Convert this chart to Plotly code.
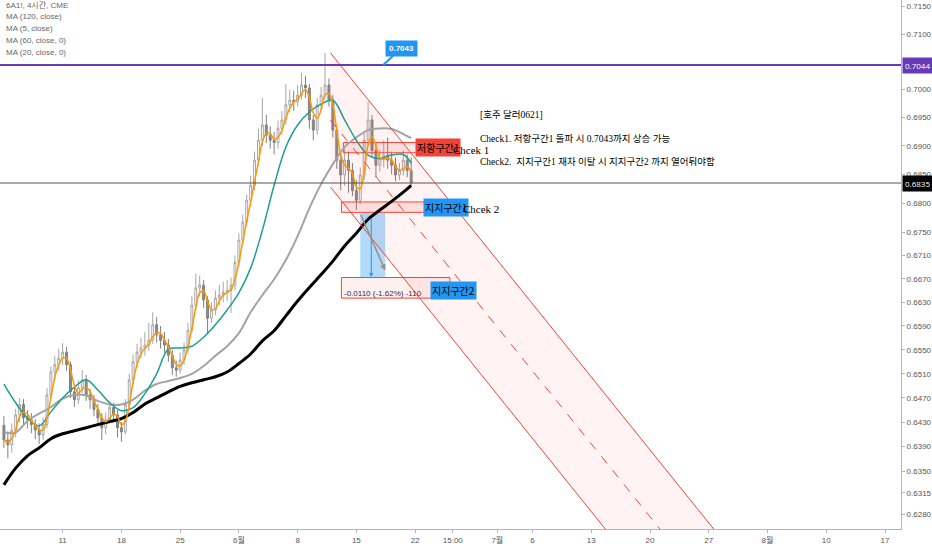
import numpy as np
import pandas as pd
import plotly.graph_objects as go

# 6A1! 4시간 차트 (8시간 단위로 읽음) 2020-05-04 ~ 2020-06-19
opens = [0.6425, 0.6401, 0.6393, 0.6417, 0.6442, 0.6459, 0.6437, 0.6434, 0.6426, 0.6417,
         0.6409, 0.6426, 0.6475, 0.6513, 0.6525, 0.6536, 0.6546, 0.6525, 0.6480, 0.6467,
         0.6487, 0.6500, 0.6475, 0.6467, 0.6451, 0.6437, 0.6421, 0.6434, 0.6454, 0.6442,
         0.6421, 0.6414, 0.6459, 0.6500, 0.6530, 0.6546, 0.6553, 0.6558, 0.6566, 0.6592,
         0.6575, 0.6566, 0.6558, 0.6541, 0.6520, 0.6516, 0.6533, 0.6550, 0.6583, 0.6625,
         0.6654, 0.6659, 0.6634, 0.6603, 0.6617, 0.6637, 0.6642, 0.6647, 0.6650, 0.6659,
         0.6698, 0.6736, 0.6767, 0.6805, 0.6831, 0.6875, 0.6910, 0.6937, 0.6919, 0.6910,
         0.6906, 0.6931, 0.6946, 0.6973, 0.6981, 0.6978, 0.6990, 0.7008, 0.7003, 0.6946,
         0.6928, 0.6973, 0.6990, 0.7008, 0.6981, 0.6928, 0.6875, 0.6849, 0.6875, 0.6857,
         0.6822, 0.6805, 0.6849, 0.6910, 0.6946, 0.6892, 0.6866, 0.6878, 0.6884, 0.6875,
         0.6866, 0.6849, 0.6857, 0.6875, 0.6857]
highs = [0.6440, 0.6415, 0.6428, 0.6452, 0.6470, 0.6468, 0.6450, 0.6445, 0.6435, 0.6428,
         0.6438, 0.6486, 0.6522, 0.6540, 0.6552, 0.6561, 0.6555, 0.6530, 0.6490, 0.6500,
         0.6516, 0.6508, 0.6485, 0.6475, 0.6460, 0.6445, 0.6446, 0.6465, 0.6462, 0.6450,
         0.6430, 0.6468, 0.6510, 0.6542, 0.6560, 0.6570, 0.6580, 0.6595, 0.6613, 0.6605,
         0.6590, 0.6580, 0.6568, 0.6550, 0.6532, 0.6545, 0.6562, 0.6595, 0.6640, 0.6679,
         0.6675, 0.6668, 0.6640, 0.6630, 0.6650, 0.6660, 0.6665, 0.6668, 0.6672, 0.6710,
         0.6748, 0.6780, 0.6815, 0.6848, 0.6890, 0.6930, 0.6985, 0.6955, 0.6935, 0.6925,
         0.6945, 0.6962, 0.7010, 0.7000, 0.6998, 0.7008, 0.7030, 0.7025, 0.7010, 0.6955,
         0.6985, 0.7005, 0.7066, 0.7020, 0.6990, 0.6935, 0.6890, 0.6895, 0.6890, 0.6870,
         0.6840, 0.6862, 0.6925, 0.6978, 0.6955, 0.6905, 0.6892, 0.6910, 0.6915, 0.6890,
         0.6880, 0.6870, 0.6892, 0.6885, 0.6880]
lows = [0.6388, 0.6371, 0.6380, 0.6405, 0.6430, 0.6425, 0.6420, 0.6412, 0.6402, 0.6394,
        0.6400, 0.6420, 0.6468, 0.6500, 0.6515, 0.6524, 0.6515, 0.6470, 0.6455, 0.6460,
        0.6478, 0.6465, 0.6452, 0.6440, 0.6425, 0.6401, 0.6410, 0.6428, 0.6430, 0.6405,
        0.6398, 0.6410, 0.6452, 0.6492, 0.6520, 0.6535, 0.6540, 0.6548, 0.6560, 0.6562,
        0.6552, 0.6545, 0.6530, 0.6508, 0.6505, 0.6510, 0.6525, 0.6545, 0.6578, 0.6615,
        0.6640, 0.6620, 0.6578, 0.6595, 0.6608, 0.6625, 0.6630, 0.6632, 0.6612, 0.6650,
        0.6690, 0.6728, 0.6760, 0.6795, 0.6822, 0.6865, 0.6900, 0.6905, 0.6895, 0.6885,
        0.6895, 0.6920, 0.6938, 0.6960, 0.6962, 0.6970, 0.6982, 0.6985, 0.6930, 0.6910,
        0.6920, 0.6965, 0.6982, 0.6970, 0.6915, 0.6860, 0.6822, 0.6830, 0.6818, 0.6812,
        0.6788, 0.6798, 0.6840, 0.6900, 0.6880, 0.6845, 0.6855, 0.6862, 0.6860, 0.6850,
        0.6838, 0.6840, 0.6848, 0.6845, 0.6831]
closes = [0.6401, 0.6393, 0.6417, 0.6442, 0.6459, 0.6437, 0.6434, 0.6426, 0.6417, 0.6409,
          0.6426, 0.6475, 0.6513, 0.6525, 0.6536, 0.6546, 0.6525, 0.6480, 0.6467, 0.6487,
          0.6500, 0.6475, 0.6467, 0.6451, 0.6437, 0.6421, 0.6434, 0.6454, 0.6442, 0.6421,
          0.6414, 0.6459, 0.6500, 0.6530, 0.6546, 0.6553, 0.6558, 0.6566, 0.6592, 0.6575,
          0.6566, 0.6558, 0.6541, 0.6520, 0.6516, 0.6533, 0.6550, 0.6583, 0.6625, 0.6654,
          0.6659, 0.6634, 0.6603, 0.6617, 0.6637, 0.6642, 0.6647, 0.6650, 0.6659, 0.6698,
          0.6736, 0.6767, 0.6805, 0.6831, 0.6875, 0.6910, 0.6937, 0.6919, 0.6910, 0.6906,
          0.6931, 0.6946, 0.6973, 0.6981, 0.6978, 0.6990, 0.7008, 0.7003, 0.6946, 0.6928,
          0.6973, 0.6990, 0.7008, 0.6981, 0.6928, 0.6875, 0.6849, 0.6875, 0.6857, 0.6822,
          0.6805, 0.6849, 0.6910, 0.6946, 0.6892, 0.6866, 0.6878, 0.6884, 0.6875, 0.6866,
          0.6849, 0.6857, 0.6875, 0.6857, 0.6835]

# 이동평균 (일 단위로 읽음 + 마지막 봉)
ma120 = [0.6328, 0.6355, 0.6375, 0.6388, 0.6403, 0.6411, 0.6416, 0.6421, 0.6426, 0.6431,
         0.6436, 0.6446, 0.6460, 0.6470, 0.6480, 0.6489, 0.6495, 0.6500, 0.6505, 0.6513,
         0.6527, 0.6543, 0.6565, 0.6582, 0.6607, 0.6632, 0.6655, 0.6677, 0.6700, 0.6726,
         0.6748, 0.6772, 0.6788, 0.6803, 0.6819, 0.6831]
ma60 = [0.6413, 0.6413, 0.6432, 0.6444, 0.6455, 0.6469, 0.6475, 0.6474, 0.6465, 0.6459,
        0.6459, 0.6467, 0.6482, 0.6493, 0.6498, 0.6503, 0.6510, 0.6523, 0.6540, 0.6556,
        0.6578, 0.6613, 0.6642, 0.6669, 0.6702, 0.6743, 0.6791, 0.6833, 0.6868, 0.6898,
        0.6915, 0.6928, 0.6931, 0.6930, 0.6921, 0.6914]
ma20 = [0.6493, 0.6462, 0.6437, 0.6424, 0.6447, 0.6470, 0.6488, 0.6500, 0.6483, 0.6462,
        0.6449, 0.6454, 0.6477, 0.6510, 0.6551, 0.6553, 0.6556, 0.6571, 0.6592, 0.6617,
        0.6646, 0.6688, 0.6753, 0.6831, 0.6898, 0.6937, 0.6960, 0.6974, 0.6981, 0.6946,
        0.6910, 0.6884, 0.6878, 0.6884, 0.6885, 0.6870]

y_ticks = [0.7150, 0.7100, 0.7000, 0.6950, 0.6900, 0.6850, 0.6800, 0.6750, 0.6710, 0.6670,
           0.6630, 0.6590, 0.6550, 0.6510, 0.6470, 0.6430, 0.6390, 0.6350, 0.6315, 0.6280]
x_tick_dates = ["2020-05-11", "2020-05-18", "2020-05-25", "2020-06-01", "2020-06-08",
                "2020-06-15", "2020-06-22", "2020-06-25 05:00", "2020-07-01", "2020-07-06",
                "2020-07-13", "2020-07-20", "2020-07-27", "2020-08-03", "2020-08-10", "2020-08-17"]
x_tick_text = ["11", "18", "25", "6월", "8", "15", "22", "15:00", "7월",
               "6", "13", "20", "27", "8월", "10", "17"]

target_price = 0.7044
last_price = 0.6835
resist1 = [0.6888, 0.6906]
support1 = [0.6784, 0.6802]
support2 = [0.6637, 0.6672]
drop_range = [0.6673, 0.6783]

# 하락 채널 (시작점, 끝점)
chan_upper = [0.7066, 0.6257]
chan_mid = [0.6946, 0.6257]
chan_lower = [0.6828, 0.6257]
chan_start = "2020-06-10 19:00"
chan_ends = ["2020-07-27 10:00", "2020-07-20 20:00", "2020-07-14 04:30"]

x_range = ["2020-05-01 16:00", "2020-08-18 08:40"]
y_range = [0.6257, 0.7162]

days = pd.bdate_range("2020-05-04", "2020-06-19")
bar_times = [d + pd.Timedelta(hours=h) for d in days for h in (0, 8, 16)]
ma_times = list(days) + [bar_times[-1]]
ma5 = pd.Series(closes).rolling(3, min_periods=1).mean()

RED = "#f44336"
BLUE = "#2196f3"
PURPLE = "#673ab7"
KFONT = "Noto Sans CJK KR"


def ly(v):
    return np.log10(v)


def box(x0, x1, y0, y1, fill, line=None):
    return go.Scatter(x=[x0, x1, x1, x0, x0], y=[y0, y0, y1, y1, y0], mode="lines",
                      fill="toself", fillcolor=fill,
                      line=dict(color=line or "rgba(0,0,0,0)", width=1), hoverinfo="skip")


fig = go.Figure()

# 채널 배경
fig.add_trace(go.Scatter(x=[chan_start, chan_ends[0], chan_ends[2], chan_start, chan_start],
                         y=[chan_upper[0], chan_upper[1], chan_lower[1], chan_lower[0], chan_upper[0]],
                         mode="lines", fill="toself", fillcolor="rgba(255,82,82,0.07)",
                         line=dict(width=0), hoverinfo="skip"))

# 구간 박스
fig.add_trace(box("2020-06-11 21:30", "2020-06-24 23:00", resist1[0], resist1[1], "rgba(244,67,54,0.12)", RED))
fig.add_trace(box("2020-06-11 17:30", "2020-06-25 21:30", support1[0], support1[1], "rgba(244,67,54,0.12)", RED))
fig.add_trace(box("2020-06-11 17:30", "2020-06-24 23:00", support2[0], support2[1], "rgba(244,67,54,0.08)", RED))
fig.add_trace(box("2020-06-15 08:00", "2020-06-17 11:00", drop_range[0], drop_range[1], "rgba(33,150,243,0.35)"))

fig.add_trace(go.Candlestick(x=bar_times, open=opens, high=highs, low=lows, close=closes,
                             increasing=dict(line=dict(color="#a6a6a6", width=1), fillcolor="#ffffff"),
                             decreasing=dict(line=dict(color="#808080", width=1), fillcolor="#8c8c8c"),
                             hoverinfo="skip"))

fig.add_trace(go.Scatter(x=ma_times, y=ma120, mode="lines", line=dict(color="#000000", width=3, shape="spline")))
fig.add_trace(go.Scatter(x=ma_times, y=ma60, mode="lines", line=dict(color="#a3a3a3", width=2, shape="spline")))
fig.add_trace(go.Scatter(x=ma_times, y=ma20, mode="lines", line=dict(color="#1f9e93", width=1.5, shape="spline")))
fig.add_trace(go.Scatter(x=bar_times, y=ma5, mode="lines", line=dict(color="#ff9800", width=1.5, shape="spline")))

# 채널 선
fig.add_trace(go.Scatter(x=[chan_start, chan_ends[0]], y=chan_upper, mode="lines", line=dict(color=RED, width=1)))
fig.add_trace(go.Scatter(x=[chan_start, chan_ends[1]], y=chan_mid, mode="lines", line=dict(color=RED, width=1, dash="dash")))
fig.add_trace(go.Scatter(x=[chan_start, chan_ends[2]], y=chan_lower, mode="lines", line=dict(color=RED, width=1)))

# 수평선
fig.add_trace(go.Scatter(x=x_range, y=[target_price, target_price], mode="lines", line=dict(color=PURPLE, width=2)))
fig.add_trace(go.Scatter(x=x_range, y=[last_price, last_price], mode="lines", line=dict(color="#555555", width=1)))

ann = []
legend_lines = ["6A1!, 4시간, CME", "MA (120, close)", "MA (5, close)", "MA (60, close, 0)", "MA (20, close, 0)"]
for i, t in enumerate(legend_lines):
    ann.append(dict(x=0.004, y=1 - (5 + 12 * i) / 529, xref="paper", yref="paper", text=t,
                    showarrow=False, xanchor="left", yanchor="middle",
                    font=dict(size=8, color="#666", family="Liberation Sans, " + KFONT)))

# 가격축 라벨
ann.append(dict(x=1, y=ly(target_price), xref="paper", yref="y", text=f"{target_price:.4f}", showarrow=False,
                xanchor="left", xshift=1, bgcolor=PURPLE, borderpad=2, font=dict(size=8, color="white")))
ann.append(dict(x=1, y=ly(last_price), xref="paper", yref="y", text=f"{last_price:.4f}", showarrow=False,
                xanchor="left", xshift=1, bgcolor="#000000", borderpad=2, font=dict(size=8, color="white")))

# 목표가 말풍선
ann.append(dict(x="2020-06-17 07:00", y=ly(target_price), text="<b>0.7043</b>", showarrow=True, ax=18, ay=-17,
                arrowhead=0, arrowwidth=2, arrowcolor=BLUE, bgcolor=BLUE, borderpad=3,
                font=dict(size=8, color="white", family="Liberation Sans")))

# 구간 라벨
ann.append(dict(x="2020-06-22 00:00", y=ly(sum(resist1) / 2), text="저항구간1", showarrow=False, xanchor="left",
                bgcolor=RED, borderpad=1, font=dict(size=10, color="black", family=KFONT)))
ann.append(dict(x="2020-06-25 00:30", y=ly(0.6892), text="Chcek 1", showarrow=False, xanchor="left",
                font=dict(size=11, color="black", family="Liberation Serif")))
ann.append(dict(x="2020-06-22 16:00", y=ly(sum(support1) / 2), text="지지구간1", showarrow=False, xanchor="left",
                bgcolor=BLUE, borderpad=1, font=dict(size=10, color="black", family=KFONT)))
ann.append(dict(x="2020-06-25 21:30", y=ly(0.6790), text="Chcek 2", showarrow=False, xanchor="left",
                font=dict(size=11, color="black", family="Liberation Serif")))
ann.append(dict(x="2020-06-23 06:30", y=ly(0.6650), text="지지구간2", showarrow=False, xanchor="left",
                bgcolor=BLUE, borderpad=1, font=dict(size=10, color="black", family=KFONT)))

d = drop_range[0] - drop_range[1]
ann.append(dict(x="2020-06-11 19:00", y=ly(0.6645),
                text=f"{d:.4f} ({d / drop_range[1] * 100:.2f}%) {round(d * 10000)}",
                showarrow=False, xanchor="left", font=dict(size=8, color="#333", family="Liberation Sans")))

# 화살표
ann.append(dict(x="2020-06-16 06:30", y=ly(drop_range[0]), text="", showarrow=True, ax=0, ay=-60,
                arrowhead=2, arrowsize=0.8, arrowwidth=1, arrowcolor=BLUE))
ann.append(dict(x="2020-06-17 11:00", y=ly(0.6684), text="", showarrow=True, ax=-25, ay=-57,
                arrowhead=2, arrowsize=0.8, arrowwidth=1.5, arrowcolor="#a08c7d"))

# 코멘트
notes = [("[호주 달러0621]", 0.6955),
         ("Check1. 저항구간1 돌파 시 0.7043까지 상승 가능", 0.6913),
         ("Check2.  지지구간1 재차 이탈 시 지지구간2 까지 열어둬야함", 0.6873)]
for t, p in notes:
    ann.append(dict(x="2020-06-29 08:00", y=ly(p), text=t, showarrow=False, xanchor="left",
                    font=dict(size=9.5, color="#000", family="Liberation Serif, " + KFONT)))

fig.update_layout(
    width=932, height=550, margin=dict(l=0, r=27, t=0, b=21),
    paper_bgcolor="white", plot_bgcolor="white", showlegend=False,
    annotations=ann,
    xaxis=dict(type="date", range=x_range, rangebreaks=[dict(bounds=["sat", "mon"])],
               rangeslider=dict(visible=False), tickvals=x_tick_dates, ticktext=x_tick_text,
               showgrid=False, zeroline=False, showline=True, linecolor="#b2b5be",
               ticks="outside", ticklen=3, tickcolor="#b2b5be",
               tickfont=dict(size=8, color="#555", family="Liberation Sans, " + KFONT)),
    yaxis=dict(type="log", side="right", range=[ly(y_range[0]), ly(y_range[1])],
               tickvals=y_ticks, ticktext=[f"{v:.4f}" for v in y_ticks],
               showgrid=False, zeroline=False, showline=True, linecolor="#b2b5be",
               ticks="outside", ticklen=3, tickcolor="#b2b5be",
               tickfont=dict(size=8, color="#555", family="Liberation Sans")),
)

# 페이지 기본 여백 제거, 툴바 숨김
fig.write_html("out.html", config={"displayModeBar": False},
               post_script="document.body.style.margin='0';document.body.style.overflow='hidden';")
